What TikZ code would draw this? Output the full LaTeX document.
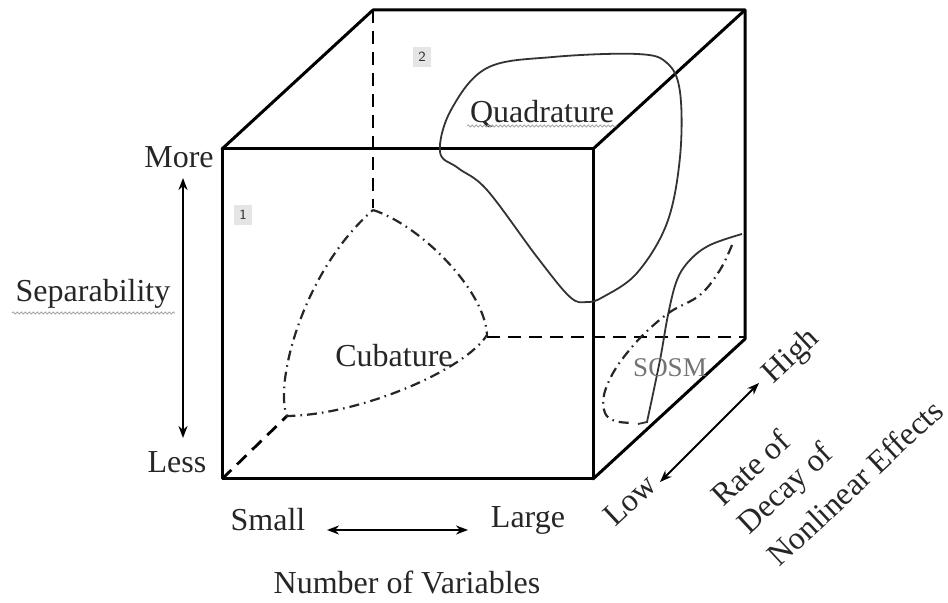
\documentclass[tikz,border=0pt]{standalone}
\usepackage{fontspec}
\setmainfont{Liberation Serif}
\usetikzlibrary{arrows.meta,decorations.pathmorphing}
\begin{document}
\begin{tikzpicture}[x=0.5pt,y=-0.5pt,
  edge/.style={line width=1.5pt, line join=round, line cap=round},
  hidden/.style={line width=1.4pt, dash pattern=on 6.5pt off 4pt},
  region/.style={line width=0.9pt, draw=black!80},
  dashdot/.style={line width=1.1pt, draw=black!85, dash pattern=on 5pt off 2.5pt on 0.8pt off 2.5pt},
  lbl/.style={font=\fontsize{16}{19}\selectfont, text=black!85, inner sep=0pt},
  tag/.style={font=\sffamily\fontsize{7}{8}\selectfont, fill=black!10, text=black!80, inner sep=2.5pt},
  dblarrow/.style={line width=1pt, {Stealth[length=6pt,width=4.5pt]}-{Stealth[length=6pt,width=4.5pt]}},
  wavy/.style={draw=black!35, line width=0.4pt, decorate, decoration={snake, amplitude=0.5pt, segment length=2pt}}
]
\useasboundingbox (0,0) rectangle (948,603);
% cube corners
\coordinate (FTL) at (222,149);
\coordinate (FTR) at (593,149);
\coordinate (FBR) at (593,479);
\coordinate (FBL) at (222,479);
\coordinate (BTL) at (373,10);
\coordinate (BTR) at (745,10);
\coordinate (BBR) at (745,339);
% hidden corner ends
\coordinate (HT) at (373,208);
\coordinate (HR) at (487,337);
\coordinate (HL) at (287,416);
\coordinate (HRE) at (745,337);

% hidden dashed edges
\draw[hidden] (BTL) -- (HT);
\draw[hidden] (HR) -- (HRE);
\draw[hidden] (FBL) -- (HL);

% visible edges
\draw[edge] (FTL) -- (FTR) -- (FBR) -- (FBL) -- cycle;
\draw[edge] (FTL) -- (BTL) -- (BTR) -- (BBR) -- (FBR);
\draw[edge] (FTR) -- (BTR);

% Cubature region
\coordinate (CT) at (373,210);
\coordinate (CR) at (487,335);
\coordinate (CL) at (287,416);
\draw[dashdot] (CT) .. controls (420,225) and (485,290) .. (CR)
  .. controls (465,370) and (360,415) .. (CL)
  .. controls (274,385) and (302,272) .. (CT);

% Quadrature region
\draw[region] plot[smooth cycle, tension=0.6] coordinates {(440,152) (451,110) (487,68) (553,57) (637,54) (667,63) (680,92) (680,157) (667,223) (637,273) (603,297) (587,302) (570,297) (537,257) (487,190) (458,168)};

% SOSM region
\draw[region] plot[smooth, tension=0.6] coordinates {(742,234) (710,245) (690,260) (677,280) (668,315) (660,360) (647,422)} -- (638,424);
\draw[dashdot] plot[smooth, tension=0.6] coordinates {(732,245) (720,270) (700,295) (670,312) (645,333) (627,353) (613,373) (604,395) (605,413) (615,421) (632,423)};

% region labels
\node[lbl] (cub) at (394,356) {Cubature};
\node[lbl] (quad) at (542,114) {Quadrature};
\node[lbl, font=\fontsize{13.5}{16}\selectfont, text=black!55] (sosm) at (670,368) {SOSM};
\node[tag] (t1) at (243,215) {1};
\node[tag] (t2) at (422,57) {2};

% separability axis
\node[lbl] (more) at (179,157) {More};
\node[lbl] (less) at (177,462) {Less};
\node[lbl] (sep) at (93,294) {Separability};
\coordinate (sa) at (183,178);
\coordinate (sb) at (183,438);
\draw[dblarrow] (sa) -- (sb);

% number of variables axis
\node[lbl] (small) at (268,520) {Small};
\node[lbl] (large) at (528,520) {Large};
\coordinate (na) at (327,530);
\coordinate (nb) at (468,530);
\draw[dblarrow] (na) -- (nb);
\node[lbl] (nov) at (407,582) {Number of Variables};

% rate of decay axis
\node[lbl, rotate=43] (low) at (630,500) {Low};
\node[lbl, rotate=43] (high) at (792,357) {High};
\coordinate (ra) at (660,482);
\coordinate (rb) at (759,383);
\draw[dblarrow] (ra) -- (rb);
\node[lbl, rotate=43, anchor=west] (r1) at (716,500) {Rate of};
\node[lbl, rotate=43, anchor=west] (r2) at (744,530) {Decay of};
\node[lbl, rotate=43, anchor=west] (r3) at (772,560) {Nonlinear Effects};

% spell-check underlines
\coordinate (w1a) at (12,313);
\coordinate (w1b) at (175,313);
\draw[wavy] (w1a) -- (w1b);
\coordinate (w2a) at (467,126);
\coordinate (w2b) at (617,126);
\draw[wavy] (w2a) -- (w2b);
\end{tikzpicture}
\end{document}
